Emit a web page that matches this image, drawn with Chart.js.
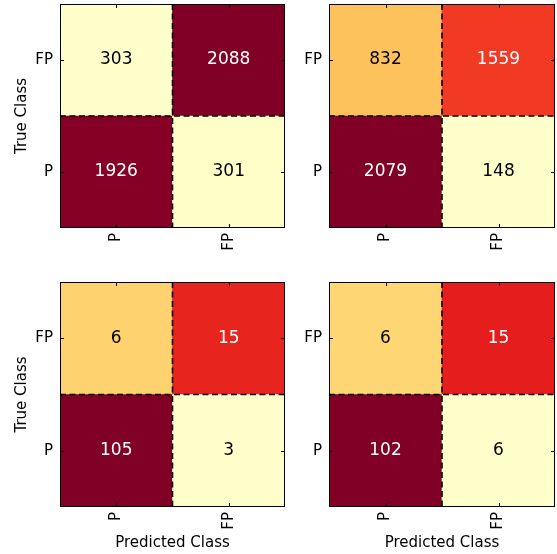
<!DOCTYPE html>
<html>
<head>
<meta charset="utf-8">
<script src="https://cdn.jsdelivr.net/npm/chart.js@4.4.1/dist/chart.umd.min.js"></script>
<style>
  body { margin: 0; background: #fff; }
  #wrap { position: relative; width: 557px; height: 554px; }
  canvas { position: absolute; }
</style>
</head>
<body>
<div id="wrap">
  <canvas id="cm1" width="287" height="277" style="left:0;top:0"></canvas>
  <canvas id="cm2" width="287" height="277" style="left:270px;top:0"></canvas>
  <canvas id="cm3" width="287" height="277" style="left:0;top:277px"></canvas>
  <canvas id="cm4" width="287" height="277" style="left:270px;top:277px"></canvas>
</div>
<script>
// class names, predicted along x, true along y
var predictedClasses = ['P', 'FP'];
var trueClasses = ['P', 'FP'];

// counts per true-class row, columns = predicted P, FP
var cm1TrueP  = [1926, 301];
var cm1TrueFP = [303, 2088];
var cm2TrueP  = [2079, 148];
var cm2TrueFP = [832, 1559];
var cm3TrueP  = [105, 3];
var cm3TrueFP = [6, 15];
var cm4TrueP  = [102, 6];
var cm4TrueFP = [6, 15];

// YlOrRd
var ylOrRd = ['#ffffcc', '#ffeda0', '#fed976', '#feb24c', '#fd8d3c', '#fc4e2a', '#e31a1c', '#bd0026', '#800026'];

function hexRgb(h) {
    return [parseInt(h.substr(1, 2), 16), parseInt(h.substr(3, 2), 16), parseInt(h.substr(5, 2), 16)];
}

function cmap(t) {
    t = Math.max(0, Math.min(1, t));
    var pos = t * (ylOrRd.length - 1);
    var i = Math.min(Math.floor(pos), ylOrRd.length - 2);
    var f = pos - i;
    var a = hexRgb(ylOrRd[i]), b = hexRgb(ylOrRd[i + 1]);
    var c = [0, 1, 2].map(function (k) { return Math.round(a[k] + (b[k] - a[k]) * f); });
    return 'rgb(' + c.join(',') + ')';
}

// colour by row-normalised value, scaled to that matrix's min/max
function normRows(rowP, rowFP) {
    var sp = rowP[0] + rowP[1], sf = rowFP[0] + rowFP[1];
    var np = rowP.map(function (v) { return v / sp; });
    var nf = rowFP.map(function (v) { return v / sf; });
    var all = np.concat(nf);
    var lo = Math.min.apply(null, all), hi = Math.max.apply(null, all);
    var scale = function (v) { return (v - lo) / (hi - lo); };
    return { p: np.map(scale), fp: nf.map(scale) };
}

var cellPlugin = {
    id: 'cells',
    afterDatasetsDraw: function (chart) {
        var ctx = chart.ctx;
        var area = chart.chartArea;
        var xs = chart.scales.x, ys = chart.scales.y;
        var midX = (xs.getPixelForValue(0) + xs.getPixelForValue(1)) / 2;
        var midY = ys.getPixelForValue(1);
        ctx.save();

        // dashed separators
        ctx.strokeStyle = '#000';
        ctx.lineWidth = 1.6;
        ctx.setLineDash([6, 3.5]);
        ctx.beginPath();
        ctx.moveTo(midX, area.top);
        ctx.lineTo(midX, area.bottom);
        ctx.moveTo(area.left, midY);
        ctx.lineTo(area.right, midY);
        ctx.stroke();
        ctx.setLineDash([]);

        // frame + inward ticks
        ctx.lineWidth = 1;
        ctx.strokeRect(area.left + 0.5, area.top + 0.5, area.right - area.left - 1, area.bottom - area.top - 1);
        ctx.beginPath();
        [0, 1].forEach(function (i) {
            var px = Math.round(xs.getPixelForValue(i)) + 0.5;
            ctx.moveTo(px, area.bottom); ctx.lineTo(px, area.bottom - 4);
            ctx.moveTo(px, area.top); ctx.lineTo(px, area.top + 4);
        });
        [0.5, 1.5].forEach(function (v) {
            var py = Math.round(ys.getPixelForValue(v)) + 0.5;
            ctx.moveTo(area.left, py); ctx.lineTo(area.left + 4, py);
            ctx.moveTo(area.right, py); ctx.lineTo(area.right - 4, py);
        });
        ctx.stroke();

        // counts
        ctx.font = '17px "DejaVu Sans"';
        ctx.textAlign = 'center';
        ctx.textBaseline = 'middle';
        chart.data.datasets.forEach(function (ds, di) {
            var meta = chart.getDatasetMeta(di);
            meta.data.forEach(function (bar, i) {
                ctx.fillStyle = ds.levels[i] > 0.5 ? '#fff' : '#000';
                ctx.fillText(String(ds.counts[i]), bar.x, (bar.y + bar.base) / 2);
            });
        });
        ctx.restore();
    }
};

function makeMatrix(id, rowP, rowFP, opts) {
    var lv = normRows(rowP, rowFP);
    var tickFont = { family: 'DejaVu Sans', size: 15 };
    new Chart(document.getElementById(id), {
        type: 'bar',
        data: {
            labels: predictedClasses,
            datasets: [
                {
                    label: trueClasses[0],
                    data: [[0, 1], [0, 1]],
                    counts: rowP,
                    levels: lv.p,
                    backgroundColor: lv.p.map(cmap),
                    borderWidth: 0,
                    barPercentage: 1,
                    categoryPercentage: 1,
                    grouped: false
                },
                {
                    label: trueClasses[1],
                    data: [[1, 2], [1, 2]],
                    counts: rowFP,
                    levels: lv.fp,
                    backgroundColor: lv.fp.map(cmap),
                    borderWidth: 0,
                    barPercentage: 1,
                    categoryPercentage: 1,
                    grouped: false
                }
            ]
        },
        options: {
            responsive: false,
            animation: false,
            layout: { padding: { top: opts.top, right: 2, left: 0, bottom: 0 } },
            plugins: { legend: { display: false }, tooltip: { enabled: false } },
            scales: {
                x: {
                    type: 'category',
                    offset: true,
                    grid: { display: false, drawTicks: false },
                    border: { display: false },
                    ticks: { font: tickFont, color: '#000', minRotation: 90, maxRotation: 90, padding: 5 },
                    title: {
                        display: opts.xTitle,
                        text: 'Predicted Class',
                        font: tickFont,
                        color: '#000',
                        padding: { top: 0, bottom: 2 }
                    },
                    afterFit: function (s) {
                        s.height = opts.xh;
                        s.paddingLeft = 0;
                        s.paddingRight = 0;
                    }
                },
                y: {
                    type: 'linear',
                    min: 0,
                    max: 2,
                    grid: { display: false, drawTicks: false },
                    border: { display: false },
                    afterBuildTicks: function (s) { s.ticks = [{ value: 0.5 }, { value: 1.5 }]; },
                    ticks: {
                        font: tickFont,
                        color: '#000',
                        padding: 7,
                        callback: function (v) { return v < 1 ? trueClasses[0] : trueClasses[1]; }
                    },
                    title: {
                        display: opts.yTitle,
                        text: 'True Class',
                        font: tickFont,
                        color: '#000',
                        padding: { top: 13, bottom: 0 }
                    },
                    afterFit: function (s) {
                        s.width = opts.yw;
                        s.paddingTop = 0;
                        s.paddingBottom = 0;
                    }
                }
            }
        },
        plugins: [cellPlugin]
    });
}

makeMatrix('cm1', cm1TrueP, cm1TrueFP, { top: 4, xh: 49, yw: 60, xTitle: false, yTitle: true });
makeMatrix('cm2', cm2TrueP, cm2TrueFP, { top: 4, xh: 49, yw: 59, xTitle: false, yTitle: false });
makeMatrix('cm3', cm3TrueP, cm3TrueFP, { top: 5, xh: 47, yw: 60, xTitle: true, yTitle: true });
makeMatrix('cm4', cm4TrueP, cm4TrueFP, { top: 5, xh: 47, yw: 59, xTitle: true, yTitle: false });
</script>
</body>
</html>
